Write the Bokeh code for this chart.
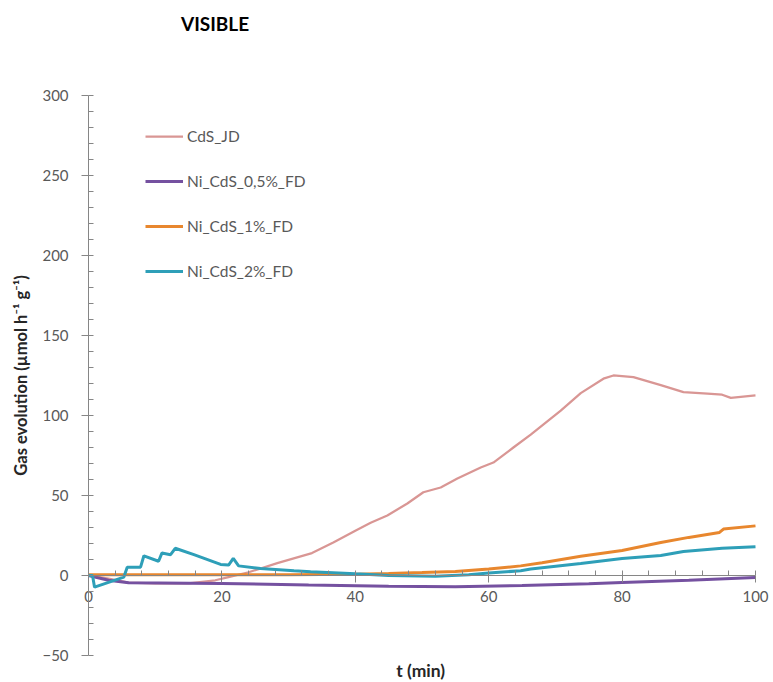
from bokeh.plotting import figure
from bokeh.models import Range1d, FixedTicker, Legend, LegendItem, Label
from bokeh.embed import file_html
from bokeh.resources import INLINE

FONT = "Lato"

# ---- data ----
cds_t = [0, 3, 6, 10, 15, 19, 21, 24, 28.3, 33.5, 36.7, 40, 42.3, 44.8, 47.8, 50.2, 52.8, 55.3,
         58.8, 60.7, 63.7, 66.3, 70.8, 73.8, 77.2, 78.7, 81.7, 85.8, 89.2, 92.8, 95, 96.3, 100]
cds_y = [0, -2, -4.5, -5, -5, -3, -1, 2, 7.7, 14, 20.6, 28, 33, 37.5, 45, 52, 55, 60.6,
         67.5, 70.6, 80, 88, 103, 114, 123, 125, 124, 119, 114.6, 113.7, 113, 111, 112.5]

ni05_t = [0, 3, 6, 15, 20, 33, 45, 55, 65, 75, 80, 90, 100]
ni05_y = [0, -3, -4.5, -4.8, -5, -6, -6.8, -7, -6.3, -5.2, -4.4, -3, -1.3]

ni1_t = [0, 10, 20, 30, 40, 45, 50, 55, 60, 64.8, 68, 73.8, 80, 85.8, 90, 94.6, 95.2, 100]
ni1_y = [0.5, 0.5, 0.5, 0.5, 0.8, 1.2, 1.8, 2.5, 4, 6, 8, 12, 15.6, 20.6, 23.8, 26.9, 29, 31]

ni2_t = [0, 0.6, 0.9, 5.3, 5.8, 7.8, 8.3, 10.5, 11, 12.3, 13, 15.8, 19.8, 21, 21.7, 22.5, 25.8,
         30.8, 33.3, 40, 45, 52, 57, 60, 64.8, 66.3, 73.8, 80, 85.8, 89.2, 95, 100]
ni2_y = [0, 0, -7.3, -1, 5.2, 5.2, 12.3, 8.9, 14, 13, 17, 13, 6.9, 6.5, 10.7, 6, 4.4,
         3, 2.4, 1, 0, -0.5, 0.5, 1.5, 3, 4, 7.5, 10.6, 12.5, 15, 17, 18]

series_names = ["CdS_JD", "Ni_CdS_0,5%_FD", "Ni_CdS_1%_FD", "Ni_CdS_2%_FD"]
series_colors = ["#D99694", "#7551A0", "#E8872E", "#2E9FB8"]

x_major = [0, 20, 40, 60, 80, 100]
x_minor = [i * 4 for i in range(26)]
y_major = [-50, 0, 50, 100, 150, 200, 250, 300]
y_minor = [-50 + i * 10 for i in range(36)]

title_text = "VISIBLE"
x_title = "t (min)"
y_title = "Gas evolution (µmol h⁻¹ g⁻¹)"

AXIS_COLOR = "#868686"
TEXT_COLOR = "#595959"

# frame covers the whole canvas; axes are drawn at fixed data locations
p = figure(width=773, height=682, output_backend="svg", toolbar_location=None,
           x_range=Range1d(-13.2, 102.7), y_range=Range1d(-66.9, 359.4),
           min_border_left=0, min_border_top=0, min_border_right=0, min_border_bottom=0)
p.grid.visible = False
p.outline_line_color = None
p.background_fill_color = "white"

xa = p.xaxis[0]
xa.fixed_location = 0
xa.bounds = (0, 100)
xa.ticker = FixedTicker(ticks=x_major, minor_ticks=x_minor)
xa.major_tick_out = 7
xa.major_tick_in = 0
xa.minor_tick_in = 5
xa.minor_tick_out = 0
xa.major_label_standoff = 9

ya = p.yaxis[0]
ya.fixed_location = 0
ya.ticker = FixedTicker(ticks=y_major, minor_ticks=y_minor)
ya.bounds = (-50, 300)
ya.major_tick_out = 7
ya.major_tick_in = 0
ya.minor_tick_in = 5
ya.minor_tick_out = 0
ya.major_label_standoff = 13
ya.axis_label = y_title
ya.axis_label_standoff = 8
ya.axis_label_text_font = FONT
ya.axis_label_text_font_style = "bold"
ya.axis_label_text_font_size = "16.5px"
ya.axis_label_text_color = "#262626"

for ax in (xa, ya):
    ax.axis_line_color = AXIS_COLOR
    ax.major_tick_line_color = AXIS_COLOR
    ax.minor_tick_line_color = AXIS_COLOR
    ax.major_label_text_font = FONT
    ax.major_label_text_font_size = "15px"
    ax.major_label_text_color = TEXT_COLOR

ts = [cds_t, ni05_t, ni1_t, ni2_t]
ys = [cds_y, ni05_y, ni1_y, ni2_y]
widths = [2.25, 3, 3, 3]
items = []
for name, color, t, y, w in zip(series_names, series_colors, ts, ys, widths):
    r = p.line(t, y, line_color=color, line_width=w)
    items.append(LegendItem(label=name, renderers=[r]))

legend = Legend(items=items, location=(145, 401), orientation="vertical",
                glyph_width=38, glyph_height=20, label_height=20, spacing=25,
                label_standoff=4, padding=0, margin=0,
                border_line_color=None, background_fill_alpha=0,
                label_text_font=FONT, label_text_font_size="15.5px",
                label_text_color=TEXT_COLOR)
p.add_layout(legend, "center")

p.add_layout(Label(x=18.97, y=345.3, text=title_text,
                   text_align="center", text_baseline="middle", text_font=FONT,
                   text_font_style="bold", text_font_size="19px", text_color="#000000"))
p.add_layout(Label(x=49.8, y=-59.4, text=x_title,
                   text_align="center", text_baseline="middle", text_font=FONT,
                   text_font_style="bold", text_font_size="17.5px", text_color="#262626"))

open("out.html", "w").write(file_html(p, INLINE))
